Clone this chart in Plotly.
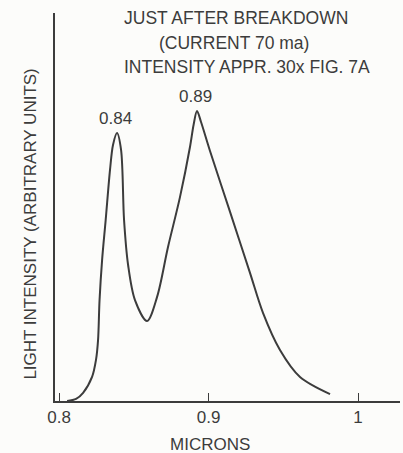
import plotly.graph_objects as go

# Wavelength (microns) and light intensity (arbitrary units, peak at 0.89 = 1.0)
microns = [0.8054, 0.8114, 0.8161, 0.8221, 0.8247, 0.8261, 0.8271, 0.8288, 0.8312, 0.8341,
           0.8361, 0.8388, 0.8415, 0.8435, 0.8462, 0.8508, 0.8589, 0.8656, 0.8729, 0.8809,
           0.8876, 0.8900, 0.8923, 0.8950, 0.9010, 0.9144, 0.9278, 0.9365, 0.9478, 0.9612,
           0.9813]
intensity = [0.0, 0.007, 0.028, 0.083, 0.141, 0.210, 0.348, 0.486, 0.624, 0.797,
             0.883, 0.924, 0.866, 0.624, 0.469, 0.348, 0.276, 0.359, 0.531, 0.703,
             0.876, 0.952, 1.0, 0.962, 0.862, 0.652, 0.441, 0.303, 0.176, 0.083,
             0.024]

peak_labels = ["0.84", "0.89"]
peak_x = [0.8388, 0.8923]
peak_y = [0.924, 1.0]

tick_vals = [0.8, 0.9, 1.0]
tick_text = ["0.8", "0.9", "1"]

title_lines = ["JUST AFTER BREAKDOWN", "(CURRENT 70 ma)", "INTENSITY APPR. 30x FIG. 7A"]
x_title = "MICRONS"
y_title = "LIGHT INTENSITY (ARBITRARY UNITS)"

ink = "#3c3c3c"
font_family = "Liberation Sans, Arial, sans-serif"

fig = go.Figure()
fig.add_trace(go.Scatter(
    x=microns, y=intensity, mode="lines",
    line=dict(color=ink, width=2, shape="spline", smoothing=0.9),
    hoverinfo="skip", showlegend=False,
))

annotations = []
for lab, px, py in zip(peak_labels, peak_x, peak_y):
    annotations.append(dict(x=px, y=py, xref="x", yref="y", text=lab, showarrow=False,
                            yanchor="bottom", yshift=3, xshift=-2,
                            font=dict(size=17, color=ink)))

title_pos = [(0.526, 0.987), (0.52, 0.923), (0.556, 0.861)]
for t, (tx, ty) in zip(title_lines, title_pos):
    annotations.append(dict(x=tx, y=ty, xref="paper", yref="paper", text=t, showarrow=False,
                            xanchor="center", yanchor="middle", font=dict(size=17.5, color=ink)))

annotations.append(dict(x=0.449, y=-0.111, xref="paper", yref="paper", text=x_title,
                        showarrow=False, xanchor="center", yanchor="middle",
                        font=dict(size=17, color=ink)))
annotations.append(dict(x=-0.072, y=0.455, xref="paper", yref="paper", text=y_title,
                        showarrow=False, textangle=-90, xanchor="center", yanchor="middle",
                        font=dict(size=17, color=ink)))

fig.update_layout(
    width=403, height=453,
    margin=dict(l=55, r=3, t=13, b=52),
    paper_bgcolor="#fcfcfa", plot_bgcolor="#fcfcfa",
    font=dict(family=font_family, color=ink),
    annotations=annotations,
    xaxis=dict(range=[0.7973, 1.0281], tickvals=tick_vals, ticktext=tick_text,
               showline=True, linecolor=ink, linewidth=1.5, ticks="inside", ticklen=8,
               tickcolor=ink, tickwidth=1, showgrid=False, zeroline=False,
               tickfont=dict(size=17, color=ink), fixedrange=True, automargin=False),
    yaxis=dict(range=[0, 1.338], showline=True, linecolor=ink, linewidth=1.5,
               showticklabels=False, ticks="", showgrid=False, zeroline=False,
               fixedrange=True, automargin=False),
)

fig.write_html("out.html", config={"displayModeBar": False},
               post_script="document.body.style.margin='0';document.body.style.overflow='hidden';")
